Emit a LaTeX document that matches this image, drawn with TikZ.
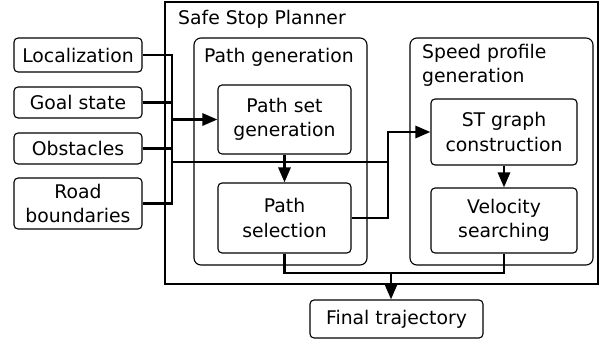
\documentclass[tikz,border=0pt]{standalone}
\usepackage{fontspec}
\setmainfont{DejaVu Sans}
\usetikzlibrary{arrows.meta}
\begin{document}
\begin{tikzpicture}[x=1pt,y=-1pt,
  lbl/.style={font=\fontsize{18.8}{24.5}\selectfont, inner sep=0pt},
  box/.style={lbl, draw, rounded corners=4pt, line width=1.1pt, align=center},
  frame/.style={draw, rounded corners=7pt, line width=1.1pt},
  conn/.style={line width=2.8pt},
  arr/.style={conn, -{Triangle[length=15pt,width=12pt]}}
]
\useasboundingbox (0,0) rectangle (608,341);

% outer frame
\draw[line width=1.1pt] (165,2) rectangle (598,284);
\node[lbl, anchor=west] (title) at (178,19) {Safe Stop Planner};

% sub frames
\draw[frame] (194,38) rectangle (367,265);
\node[lbl, anchor=west] (pg) at (204,57) {Path generation};
\draw[frame] (410,38) rectangle (593,265);
\node[lbl, anchor=north west, align=left] (spg) at (422,44) {Speed profile\\generation};

% inputs
\node[box, minimum width=128pt, minimum height=34pt] (loc) at (78,55) {Localization};
\node[box, minimum width=128pt, minimum height=31pt] (goal) at (78,102.5) {Goal state};
\node[box, minimum width=128pt, minimum height=31pt] (obs) at (78,148.5) {Obstacles};
\node[box, minimum width=128pt, minimum height=51pt] (road) at (78,203.5) {Road\\boundaries};

% inner boxes
\node[box, minimum width=133pt, minimum height=69pt] (psg) at (284.5,119.5) {Path set\\generation};
\node[box, minimum width=133pt, minimum height=70pt] (pss) at (284.5,218) {Path\\selection};
\node[box, minimum width=146pt, minimum height=66pt] (st) at (504,132) {ST graph\\construction};
\node[box, minimum width=146pt, minimum height=65pt] (vel) at (504,220.5) {Velocity\\searching};

\node[box, minimum width=173pt, minimum height=38pt] (fin) at (396.5,319) {Final trajectory};

% junction coordinates
\coordinate (bus) at (172,0);
\coordinate (sw) at (388,0);
\coordinate (merge) at (391,273);

% input bus
\draw[conn] (loc.east) -| (bus |- loc.east) -- (bus |- road.east) -- (road.east);
\draw[conn] (goal.east) -- (bus |- goal.east);
\draw[conn] (obs.east) -- (bus |- obs.east);
\draw[arr] (bus |- psg.west) -- (psg.west);
\draw[conn] (bus |- 0,162) -- (sw |- 0,162);
\draw[arr] (pss.east) -| (sw |- st.west) -- (st.west);

\draw[arr] (psg.south) -- (pss.north);
\draw[arr] (st.south) -- (vel.north);

\draw[conn] (pss.south) -- (pss.south |- merge) -- (vel.south |- merge) -- (vel.south);
\draw[arr] (merge) -- (merge |- fin.north);
\end{tikzpicture}
\end{document}
